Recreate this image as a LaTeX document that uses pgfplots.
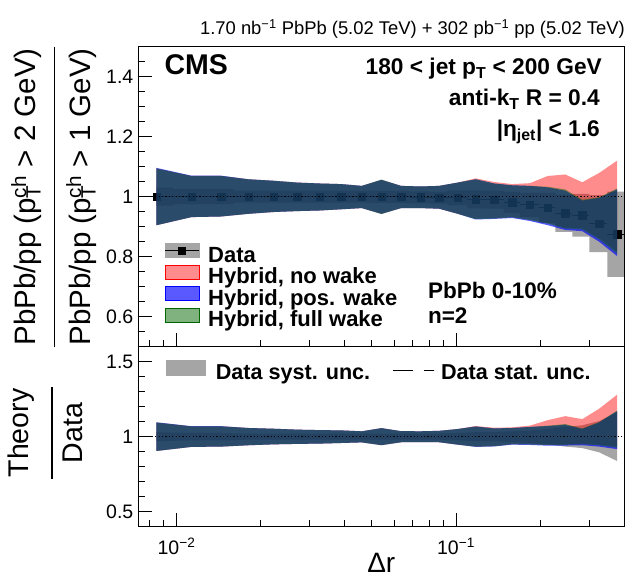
\documentclass[border=0pt]{standalone}
\usepackage{pgfplots}
\pgfplotsset{compat=1.18}
\usepackage{fontspec}
\setmainfont{Liberation Sans}
\definecolor{sysgray}{RGB}{165,165,165}
\definecolor{hred}{RGB}{255,0,0}
\definecolor{hblue}{RGB}{0,0,255}
\definecolor{hgreen}{RGB}{0,102,0}
\newcommand{\fs}[1]{\fontsize{#1bp}{#1bp}\selectfont}
\newcommand{\pTch}{p\rlap{\textsuperscript{ch}}\textsubscript{T}\hspace{0.32em}}
\begin{document}
\begin{tikzpicture}[x=1bp,y=1bp]
\path[use as bounding box] (0,0) rectangle (631,579);

% ---------------- top panel ----------------
\begin{axis}[
  scale only axis, width=486bp, height=300bp,
  at={(138.3bp,232.3bp)}, anchor=south west,
  xmode=log, xmin=0.0073, xmax=0.4,
  ymin=0.5, ymax=1.5,
  axis on top, clip marker paths=true,
  axis line style={line width=1bp},
  tick align=inside, xtick pos=left, ytick pos=left,
  major tick length=14bp, minor tick length=7bp,
  tick style={black, line width=0.8bp},
  xtick={0.01,0.1},
  minor xtick={0.008,0.009,0.02,0.03,0.04,0.05,0.06,0.07,0.08,0.09,0.2,0.3},
  xticklabels={},
  ytick={0.6,0.8,1,1.2,1.4}, yticklabels={0.6,0.8,1,1.2,1.4},
  minor ytick={0.55,0.65,0.7,0.75,0.85,0.9,0.95,1.05,1.1,1.15,1.25,1.3,1.35,1.45},
  yticklabel style={font=\fs{19.5}, anchor=east, inner sep=0pt, xshift=-4.8bp},
  legend style={at={(0.054,0.344)}, anchor=north west, draw=none, fill=none,
    inner sep=0pt, outer sep=0pt, font=\fs{22}\bfseries, row sep=-3bp,
    nodes={inner sep=0pt, outer sep=0pt},
    /tikz/column 1/.style={column sep=8.6bp}},
  legend cell align=left,
]
\addlegendimage{legend image code/.code={
  \fill[sysgray] (0bp,-0.5bp) rectangle (34bp,13.5bp);
  \draw[black, line width=1bp] (0bp,6.5bp) -- (34bp,6.5bp);
  \fill[black] (13bp,2.8bp) rectangle (20.6bp,10.4bp);}}
\addlegendentry[inner sep=0pt, text height=15.5bp, text depth=5.8bp]{Data}
\addlegendimage{legend image code/.code={
  \filldraw[fill=hred, fill opacity=0.45, draw=hred, line width=0.8bp] (0bp,-0.5bp) rectangle (34bp,13.5bp);}}
\addlegendentry[inner sep=0pt, text height=15.5bp, text depth=5.8bp]{Hybrid, no wake}
\addlegendimage{legend image code/.code={
  \filldraw[fill=hblue, fill opacity=0.65, draw=hblue, line width=0.8bp] (0bp,-0.5bp) rectangle (34bp,13.5bp);}}
\addlegendentry[inner sep=0pt, text height=15.5bp, text depth=5.8bp]{Hybrid, pos. wake}
\addlegendimage{legend image code/.code={
  \filldraw[fill=hgreen, fill opacity=0.5, draw=hgreen, line width=0.8bp] (0bp,-0.5bp) rectangle (34bp,13.5bp);}}
\addlegendentry[inner sep=0pt, text height=15.5bp, text depth=5.8bp]{Hybrid, full wake}

% data systematic boxes
\addplot[forget plot, fill=sysgray, draw=none] coordinates {
(0.00848,1.030) (0.0097,1.030) (0.0097,1.025) (0.0129,1.025) (0.0160,1.025) (0.0160,1.020) (0.0202,1.020) (0.0244,1.020) (0.0297,1.020) (0.0351,1.020) (0.0425,1.020) (0.0495,1.020) (0.0495,1.019) (0.0587,1.019) (0.0685,1.019) (0.0685,1.018) (0.0807,1.018) (0.0807,1.017) (0.0933,1.017) (0.0933,1.021) (0.1095,1.021) (0.1257,1.021) (0.1257,1.020) (0.1479,1.020) (0.1479,1.016) (0.1693,1.016) (0.1693,1.013) (0.1985,1.013) (0.2265,1.013) (0.2265,1.007) (0.2610,1.007) (0.2610,1.009) (0.3000,1.009) (0.3000,1.005) (0.3480,1.005) (0.3480,1.017) (0.4000,1.017)
(0.4000,0.733) (0.3480,0.733) (0.3480,0.815) (0.3000,0.815) (0.3000,0.867) (0.2610,0.867) (0.2610,0.883) (0.2265,0.883) (0.2265,0.913) (0.1985,0.913) (0.1985,0.933) (0.1693,0.933) (0.1693,0.946) (0.1479,0.946) (0.1479,0.960) (0.1257,0.960) (0.1257,0.961) (0.1095,0.961) (0.1095,0.971) (0.0933,0.971) (0.0933,0.977) (0.0807,0.977) (0.0807,0.978) (0.0685,0.978) (0.0685,0.979) (0.0495,0.979) (0.0495,0.980) (0.0160,0.980) (0.0160,0.975) (0.0097,0.975) (0.0097,0.970) (0.00848,0.970)};

% data points
\addplot[forget plot, only marks, mark=square*, mark size=3.7bp, black,
  error bars/.cd, x dir=both, x explicit, error mark=none,
  error bar style={line width=1bp, black}] coordinates {
(0.00848,1.000) += (0.00122,0) -= (0.00118,0)
(0.01131,1.000) += (0.00159,0) -= (0.00161,0)
(0.01446,1.000) += (0.00154,0) -= (0.00156,0)
(0.01809,1.000) += (0.00211,0) -= (0.00209,0)
(0.02231,1.000) += (0.00209,0) -= (0.00211,0)
(0.02705,1.000) += (0.00265,0) -= (0.00265,0)
(0.03253,1.000) += (0.00257,0) -= (0.00283,0)
(0.03879,1.000) += (0.00371,0) -= (0.00369,0)
(0.0460,1.000) += (0.0035,0) -= (0.0035,0)
(0.0541,0.999) += (0.0046,0) -= (0.0046,0)
(0.0636,0.999) += (0.0049,0) -= (0.0049,0)
(0.0746,0.998) += (0.0061,0) -= (0.0061,0)
(0.0870,0.997) += (0.0063,0) -= (0.0063,0)
(0.1014,0.996) += (0.0081,0) -= (0.0081,0)
(0.1176,0.991) += (0.0081,0) -= (0.0081,0)
(0.1368,0.990) += (0.0111,0) -= (0.0111,0)
(0.1586,0.981) += (0.0107,0) -= (0.0107,0)
(0.1839,0.973) += (0.0146,0) -= (0.0146,0)
(0.2128,0.963) += (0.0137,0) -= (0.0143,0)
(0.2460,0.945) += (0.0150,0) -= (0.0195,0)
(0.2830,0.938) += (0.0170,0) -= (0.0220,0)
(0.3250,0.910) += (0.0230,0) -= (0.0250,0)
(0.3770,0.875) += (0.0230,0) -= (0.0290,0)};

% Hybrid, no wake
\addplot[forget plot, fill=hred, fill opacity=0.45, draw=none] coordinates {
(0.00848,1.094) (0.01131,1.069) (0.01446,1.069) (0.01809,1.058) (0.02231,1.053) (0.02705,1.047) (0.03253,1.044) (0.03879,1.042) (0.0460,1.036) (0.0541,1.056) (0.0636,1.036) (0.0746,1.034) (0.0870,1.036) (0.1014,1.047) (0.1176,1.061) (0.1368,1.049) (0.1586,1.042) (0.1839,1.045) (0.2128,1.069) (0.2460,1.074) (0.2830,1.048) (0.3250,1.079) (0.3770,1.120)
(0.3770,0.818) (0.3250,0.862) (0.2830,0.894) (0.2460,0.897) (0.2128,0.912) (0.1839,0.924) (0.1586,0.932) (0.1368,0.929) (0.1176,0.927) (0.1014,0.943) (0.0870,0.960) (0.0746,0.962) (0.0636,0.962) (0.0541,0.943) (0.0460,0.962) (0.03879,0.958) (0.03253,0.954) (0.02705,0.952) (0.02231,0.949) (0.01809,0.943) (0.01446,0.934) (0.01131,0.932) (0.00848,0.905)};
% Hybrid, pos. wake
\addplot[forget plot, fill=hblue, fill opacity=0.65, draw=none] coordinates {
(0.00848,1.096) (0.01131,1.070) (0.01446,1.070) (0.01809,1.058) (0.02231,1.053) (0.02705,1.047) (0.03253,1.044) (0.03879,1.042) (0.0460,1.036) (0.0541,1.056) (0.0636,1.036) (0.0746,1.034) (0.0870,1.036) (0.1014,1.047) (0.1176,1.058) (0.1368,1.044) (0.1586,1.038) (0.1839,1.036) (0.2128,1.031) (0.2460,1.020) (0.2830,0.987) (0.3250,0.996) (0.3770,1.024)
(0.3770,0.802) (0.3250,0.850) (0.2830,0.885) (0.2460,0.889) (0.2128,0.905) (0.1839,0.919) (0.1586,0.929) (0.1368,0.926) (0.1176,0.924) (0.1014,0.943) (0.0870,0.960) (0.0746,0.962) (0.0636,0.962) (0.0541,0.943) (0.0460,0.962) (0.03879,0.958) (0.03253,0.954) (0.02705,0.952) (0.02231,0.949) (0.01809,0.943) (0.01446,0.934) (0.01131,0.932) (0.00848,0.905)};
% Hybrid, full wake
\addplot[forget plot, fill=hgreen, fill opacity=0.5, draw=none] coordinates {
(0.00848,1.094) (0.01131,1.069) (0.01446,1.069) (0.01809,1.058) (0.02231,1.053) (0.02705,1.047) (0.03253,1.044) (0.03879,1.042) (0.0460,1.036) (0.0541,1.057) (0.0636,1.036) (0.0746,1.034) (0.0870,1.036) (0.1014,1.047) (0.1176,1.058) (0.1368,1.044) (0.1586,1.038) (0.1839,1.036) (0.2128,1.033) (0.2460,1.024) (0.2830,0.990) (0.3250,0.998) (0.3770,1.027)
(0.3770,0.811) (0.3250,0.858) (0.2830,0.891) (0.2460,0.894) (0.2128,0.910) (0.1839,0.922) (0.1586,0.931) (0.1368,0.927) (0.1176,0.925) (0.1014,0.943) (0.0870,0.960) (0.0746,0.962) (0.0636,0.962) (0.0541,0.942) (0.0460,0.962) (0.03879,0.958) (0.03253,0.954) (0.02705,0.952) (0.02231,0.949) (0.01809,0.943) (0.01446,0.934) (0.01131,0.932) (0.00848,0.905)};

\addplot[forget plot, black, line width=0.8bp, dash pattern=on 1.2bp off 2.2bp] coordinates {(0.0073,1) (0.4,1)};
\end{axis}

% ---------------- bottom panel ----------------
\begin{axis}[
  scale only axis, width=486bp, height=180bp,
  at={(138.3bp,52.3bp)}, anchor=south west,
  xmode=log, xmin=0.0073, xmax=0.4,
  ymin=0.4, ymax=1.6,
  axis on top,
  axis line style={line width=1bp},
  tick align=inside, xtick pos=left, ytick pos=left,
  major tick length=14bp, minor tick length=7bp,
  tick style={black, line width=0.8bp},
  xtick={0.01,0.1},
  minor xtick={0.008,0.009,0.02,0.03,0.04,0.05,0.06,0.07,0.08,0.09,0.2,0.3},
  xticklabels={{10\textsuperscript{−2}},{10\textsuperscript{−1}}},
  xticklabel style={font=\fs{19.5}, anchor=base, inner sep=0pt, yshift=-28.3bp},
  ytick={0.5,1,1.5}, yticklabels={0.5,1,1.5},
  minor ytick={0.6,0.7,0.8,0.9,1.1,1.2,1.3,1.4},
  yticklabel style={font=\fs{19.5}, anchor=east, inner sep=0pt, xshift=-4.8bp},
  legend columns=2,
  legend style={at={(0.057,0.927)}, anchor=north west, draw=none, fill=none,
    inner sep=0pt, outer sep=0pt, font=\fs{21.6}\bfseries,
    nodes={inner sep=0pt, outer sep=0pt},
    /tikz/column 1/.style={column sep=10.4bp},
    /tikz/column 2/.style={column sep=22.4bp},
    /tikz/column 3/.style={column sep=7bp}},
  legend cell align=left,
]
\addlegendimage{legend image code/.code={
  \fill[sysgray] (0bp,-1.4bp) rectangle (39bp,14.2bp);}}
\addlegendentry[inner sep=0pt, text height=15.5bp, text depth=5.8bp]{Data syst. unc.}
\addlegendimage{legend image code/.code={
  \draw[black, line width=0.8bp, dash pattern=on 20.4bp off 10.2bp on 10bp off 0bp] (0bp,4.2bp) -- (40.6bp,4.2bp);}}
\addlegendentry[inner sep=0pt, text height=15.5bp, text depth=5.8bp]{Data stat. unc.}

% data syst band (relative)
\addplot[forget plot, fill=sysgray, draw=none] coordinates {
(0.00848,1.030) (0.01131,1.025) (0.01446,1.025) (0.01809,1.020) (0.02231,1.020) (0.02705,1.020) (0.03253,1.020) (0.03879,1.020) (0.0460,1.020) (0.0541,1.020) (0.0636,1.020) (0.0746,1.020) (0.0870,1.020) (0.1014,1.025) (0.1176,1.030) (0.1368,1.030) (0.1586,1.036) (0.1839,1.041) (0.2128,1.052) (0.2460,1.066) (0.2830,1.076) (0.3250,1.104) (0.3770,1.162)
(0.3770,0.838) (0.3250,0.896) (0.2830,0.924) (0.2460,0.934) (0.2128,0.948) (0.1839,0.959) (0.1586,0.964) (0.1368,0.970) (0.1176,0.970) (0.1014,0.975) (0.0870,0.980) (0.0746,0.980) (0.0636,0.980) (0.0541,0.980) (0.0460,0.980) (0.03879,0.980) (0.03253,0.980) (0.02705,0.980) (0.02231,0.980) (0.01809,0.980) (0.01446,0.975) (0.01131,0.975) (0.00848,0.970)};

% Hybrid, no wake / data
\addplot[forget plot, fill=hred, fill opacity=0.45, draw=none] coordinates {
(0.00848,1.094) (0.01131,1.069) (0.01446,1.069) (0.01809,1.058) (0.02231,1.053) (0.02705,1.047) (0.03253,1.044) (0.03879,1.042) (0.0460,1.036) (0.0541,1.057) (0.0636,1.037) (0.0746,1.036) (0.0870,1.039) (0.1014,1.051) (0.1176,1.071) (0.1368,1.060) (0.1586,1.062) (0.1839,1.074) (0.2128,1.110) (0.2460,1.137) (0.2830,1.117) (0.3250,1.186) (0.3770,1.280)
(0.3770,0.935) (0.3250,0.947) (0.2830,0.953) (0.2460,0.949) (0.2128,0.947) (0.1839,0.950) (0.1586,0.950) (0.1368,0.938) (0.1176,0.935) (0.1014,0.947) (0.0870,0.963) (0.0746,0.964) (0.0636,0.963) (0.0541,0.944) (0.0460,0.962) (0.03879,0.958) (0.03253,0.954) (0.02705,0.952) (0.02231,0.949) (0.01809,0.943) (0.01446,0.934) (0.01131,0.932) (0.00848,0.905)};
% Hybrid, pos. wake / data
\addplot[forget plot, fill=hblue, fill opacity=0.65, draw=none] coordinates {
(0.00848,1.096) (0.01131,1.070) (0.01446,1.070) (0.01809,1.058) (0.02231,1.053) (0.02705,1.047) (0.03253,1.044) (0.03879,1.042) (0.0460,1.036) (0.0541,1.057) (0.0636,1.037) (0.0746,1.036) (0.0870,1.039) (0.1014,1.051) (0.1176,1.068) (0.1368,1.055) (0.1586,1.058) (0.1839,1.065) (0.2128,1.071) (0.2460,1.079) (0.2830,1.052) (0.3250,1.095) (0.3770,1.170)
(0.3770,0.917) (0.3250,0.934) (0.2830,0.943) (0.2460,0.941) (0.2128,0.940) (0.1839,0.945) (0.1586,0.947) (0.1368,0.935) (0.1176,0.932) (0.1014,0.947) (0.0870,0.963) (0.0746,0.964) (0.0636,0.963) (0.0541,0.944) (0.0460,0.962) (0.03879,0.958) (0.03253,0.954) (0.02705,0.952) (0.02231,0.949) (0.01809,0.943) (0.01446,0.934) (0.01131,0.932) (0.00848,0.905)};
% Hybrid, full wake / data
\addplot[forget plot, fill=hgreen, fill opacity=0.5, draw=none] coordinates {
(0.00848,1.094) (0.01131,1.069) (0.01446,1.069) (0.01809,1.058) (0.02231,1.053) (0.02705,1.047) (0.03253,1.044) (0.03879,1.042) (0.0460,1.036) (0.0541,1.057) (0.0636,1.037) (0.0746,1.036) (0.0870,1.039) (0.1014,1.051) (0.1176,1.068) (0.1368,1.055) (0.1586,1.058) (0.1839,1.065) (0.2128,1.073) (0.2460,1.084) (0.2830,1.055) (0.3250,1.097) (0.3770,1.174)
(0.3770,0.927) (0.3250,0.943) (0.2830,0.950) (0.2460,0.946) (0.2128,0.945) (0.1839,0.948) (0.1586,0.949) (0.1368,0.936) (0.1176,0.933) (0.1014,0.947) (0.0870,0.963) (0.0746,0.964) (0.0636,0.963) (0.0541,0.943) (0.0460,0.962) (0.03879,0.958) (0.03253,0.954) (0.02705,0.952) (0.02231,0.949) (0.01809,0.943) (0.01446,0.934) (0.01131,0.932) (0.00848,0.905)};

\addplot[forget plot, black, line width=0.8bp, dash pattern=on 1.2bp off 2.2bp] coordinates {(0.0073,1) (0.4,1)};
\end{axis}

% ---------------- texts ----------------
\node[anchor=base east, font=\fs{18.4}, inner sep=0pt] at (625,544)
  {1.70 nb\textsuperscript{−1} PbPb (5.02 TeV) + 302 pb\textsuperscript{−1} pp (5.02 TeV)};
\node[anchor=base west, font=\fs{28.5}\bfseries, inner sep=0pt] at (164.3,504) {CMS};
\node[anchor=base east, font=\fs{22.7}\bfseries, inner sep=0pt] at (602,504) {180 < jet p\textsubscript{T} < 200 GeV};
\node[anchor=base east, font=\fs{22.7}\bfseries, inner sep=0pt] at (600,473.4) {anti-k\textsubscript{T} R = 0.4};
\node[anchor=base east, font=\fs{22.7}\bfseries, inner sep=0pt] at (600,442.8) {|η\textsubscript{jet}| < 1.6};
\node[anchor=base west, font=\fs{22.5}\bfseries, inner sep=0pt] at (427.8,280) {PbPb 0-10\%};
\node[anchor=base west, font=\fs{22.5}\bfseries, inner sep=0pt] at (427.8,255.5) {n=2};
\node[anchor=base, font=\fs{28}, inner sep=0pt] at (381.3,6) {Δr};
% y titles
\node[rotate=90, anchor=base, font=\fs{29.5}, inner sep=0pt] at (35,382) {PbPb/pp (\pTch\ > 2 GeV)};
\draw[line width=1.2bp] (54.3,532.3) -- (54.3,232.3);
\node[rotate=90, anchor=base, font=\fs{29.5}, inner sep=0pt] at (90,382) {PbPb/pp (\pTch\ > 1 GeV)};
\node[rotate=90, anchor=base, font=\fs{28.5}, inner sep=0pt] at (28,146) {Theory};
\draw[line width=1.2bp] (52,100) -- (52,192);
\node[rotate=90, anchor=base, font=\fs{28.5}, inner sep=0pt] at (82,146) {Data};
\end{tikzpicture}
\end{document}
